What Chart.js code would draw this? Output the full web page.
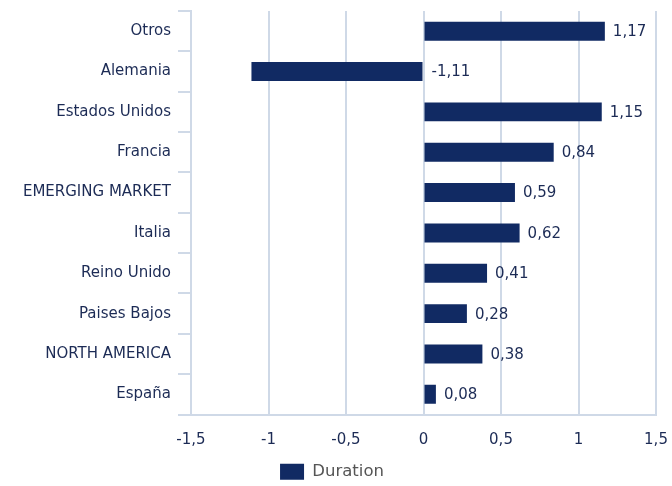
<!DOCTYPE html>
<html>
<head>
<meta charset="utf-8">
<script src="https://cdn.jsdelivr.net/npm/chart.js@4/dist/chart.umd.min.js"></script>
<style>
  html, body { margin: 0; padding: 0; background: #ffffff; }
  #wrap { width: 672px; height: 486px; position: relative; }
</style>
</head>
<body>
<div id="wrap"><canvas id="c" width="672" height="486"></canvas></div>
<script>
const categories = ["Otros", "Alemania", "Estados Unidos", "Francia", "EMERGING MARKET", "Italia", "Reino Unido", "Paises Bajos", "NORTH AMERICA", "España"];
const durationValues = [1.17, -1.11, 1.15, 0.84, 0.59, 0.62, 0.41, 0.28, 0.38, 0.08];
const xTickValues = [-1.5, -1, -0.5, 0, 0.5, 1, 1.5];
const seriesName = "Duration";

const NAVY = "#112a63";
const TEXT = "#1c2b55";
const GRID = "#cfd9e7";
const FONT = "'DejaVu Sans', Verdana, sans-serif";

const fmt = v => String(v).replace('.', ',');

const valueLabels = {
  id: 'valueLabels',
  afterLayout(chart) {
    if (chart.legend) { chart.legend.left += 4; chart.legend.right += 4; }
  },
  afterDatasetsDraw(chart) {
    const ctx = chart.ctx;
    const xs = chart.scales.x;
    const meta = chart.getDatasetMeta(0);
    ctx.save();
    ctx.font = "15px " + FONT;
    ctx.fillStyle = TEXT;
    ctx.textAlign = 'left';
    ctx.textBaseline = 'middle';
    meta.data.forEach((bar, i) => {
      const v = durationValues[i];
      const x = xs.getPixelForValue(Math.max(v, 0)) + 8;
      ctx.fillText(fmt(v.toFixed(2)), x, bar.y + 1);
    });
    ctx.restore();
  }
};

new Chart(document.getElementById('c'), {
  type: 'bar',
  data: {
    labels: categories,
    datasets: [{
      label: seriesName,
      data: durationValues,
      backgroundColor: NAVY,
      borderWidth: 0,
      barPercentage: 0.47,
      categoryPercentage: 1.0
    }]
  },
  options: {
    indexAxis: 'y',
    responsive: false,
    animation: false,
    layout: { padding: { top: 11, right: 16, left: 0, bottom: -4 } },
    plugins: {
      legend: {
        position: 'bottom',
        labels: {
          boxWidth: 24,
          boxHeight: 16,
          color: '#555555',
          font: { family: FONT, size: 16.5 },
          padding: 6
        }
      },
      tooltip: { enabled: false }
    },
    scales: {
      x: {
        min: -1.5,
        max: 1.5,
        afterBuildTicks(scale) { scale.ticks = xTickValues.map(v => ({ value: v })); },
        afterFit(scale) { scale.height = 43; scale.paddingLeft = 0; scale.paddingRight = 0; },
        ticks: {
          color: TEXT,
          font: { family: FONT, size: 15 },
          padding: 17,
          callback: v => fmt(v)
        },
        grid: { color: GRID, lineWidth: 2, drawTicks: false },
        border: { display: true, color: GRID, width: 2 }
      },
      y: {
        afterFit(scale) { scale.width = 191; scale.paddingTop = 0; scale.paddingBottom = 0; },
        ticks: {
          color: TEXT,
          font: { family: FONT, size: 15 },
          padding: 7
        },
        grid: { offset: true, drawOnChartArea: false, drawTicks: true, tickLength: 13, color: GRID, lineWidth: 2 },
        border: { display: true, color: GRID, width: 2 }
      }
    }
  },
  plugins: [valueLabels]
});
</script>
</body>
</html>
